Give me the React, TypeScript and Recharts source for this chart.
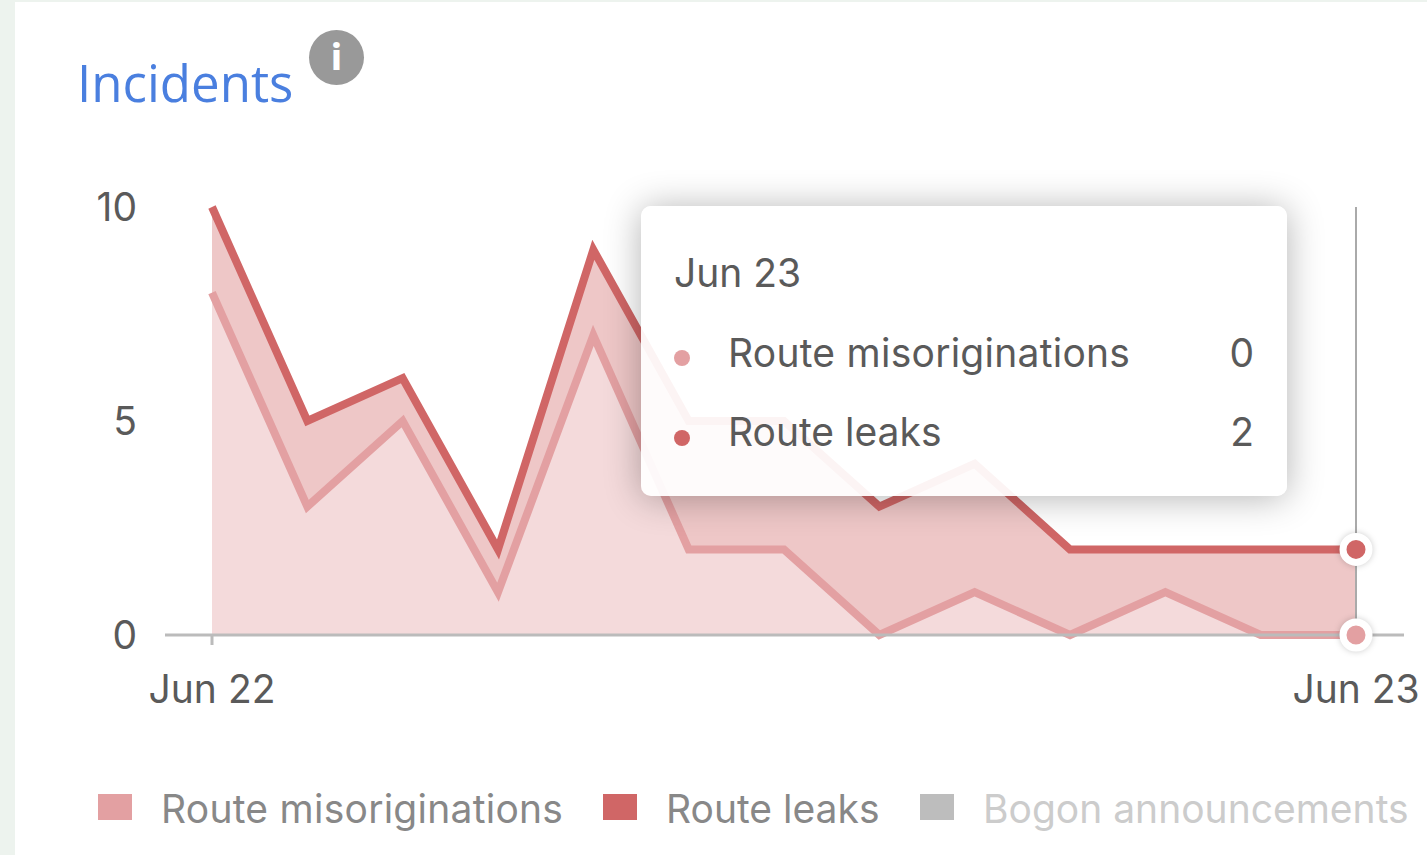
import React from "react";
import { AreaChart, Area, XAxis, YAxis, Tooltip, Legend } from "recharts";

const categories = [
  "Jun 22", "Jun 22 02:00", "Jun 22 04:00", "Jun 22 06:00", "Jun 22 08:00", "Jun 22 10:00", "Jun 22 12:00",
  "Jun 22 14:00", "Jun 22 16:00", "Jun 22 18:00", "Jun 22 20:00", "Jun 22 22:00", "Jun 23",
];
const misoriginations = [8, 3, 5, 1, 7, 2, 2, 0, 1, 0, 1, 0, 0];
const leaks = [2, 2, 1, 1, 2, 3, 3, 3, 3, 2, 1, 2, 2];
const xTicks = ["Jun 22", "Jun 23"];
const yTicks = [0, 5, 10];
const legendLabels = ["Route misoriginations", "Route leaks", "Bogon announcements"];

const MISO = "#e3a0a2";
const LEAK = "#d06666";
const MISO_FILL = "#f4dadb";
const LEAK_FILL = "#eec7c7";
const FONT = "Inter, sans-serif";
const SIZE = 39;
const TEXT = "#5a5a5a";

const data = categories.map((c, i) => ({
  date: c,
  miso: misoriginations[i],
  leak: leaks[i],
  total: misoriginations[i] + leaks[i],
}));

function TooltipBox({ active, payload, label }: any) {
  if (!active || !payload || !payload.length) return null;
  const d = payload[0].payload;
  const rows = [
    { name: legendLabels[0], value: d.miso, color: MISO },
    { name: legendLabels[1], value: d.leak, color: LEAK },
  ];
  return (
    <div style={{
      position: "relative", width: 646, height: 290, background: "rgba(255,255,255,0.93)", borderRadius: 10,
      boxShadow: "0 2px 36px rgba(0,0,0,0.3)", fontFamily: FONT, color: TEXT, fontSize: SIZE,
    }}>
      <div style={{ position: "absolute", left: 33, top: 45, lineHeight: "44px" }}>{label}</div>
      {rows.map((r: any, i: number) => (
        <React.Fragment key={r.name}>
          <div style={{ position: "absolute", left: 33, top: 144 + i * 80, width: 16, height: 16, borderRadius: 8, background: r.color }} />
          <div style={{ position: "absolute", left: 87, top: 125 + i * 79, lineHeight: "44px", letterSpacing: i === 0 ? 0.25 : 0 }}>{r.name}</div>
          <div style={{ position: "absolute", right: 33, top: 125 + i * 79, lineHeight: "44px" }}>{r.value}</div>
        </React.Fragment>
      ))}
    </div>
  );
}

const legendColors = [MISO, LEAK, "#bdbdbd"];
const legendTextColors = ["#888", "#888", "#ccc"];
const legendLefts = [98, 603, 920];

function LegendRow() {
  return (
    <div style={{ position: "relative", width: 1427, height: 60, fontFamily: FONT, fontSize: SIZE }}>
      {legendLabels.map((l, i) => (
        <React.Fragment key={l}>
          <div style={{ position: "absolute", left: legendLefts[i], top: 6, width: 34, height: 26, background: legendColors[i] }} />
          <div style={{ position: "absolute", left: legendLefts[i] + 63, top: -1, lineHeight: "44px", color: legendTextColors[i], whiteSpace: "nowrap", letterSpacing: i === 0 ? 0.25 : 0 }}>{l}</div>
        </React.Fragment>
      ))}
    </div>
  );
}

function ActiveDot({ cx, cy, color }: any) {
  return (
    <circle cx={cx} cy={cy} r={13} fill={color} stroke="#fff" strokeWidth={7}
      style={{ filter: "drop-shadow(0 0 3px rgba(0,0,0,0.2))" }} />
  );
}

export default function App() {
  return (
    <div style={{ position: "absolute", left: 0, top: 0, width: 1427, height: 855, background: "#edf3ee", overflow: "hidden" }}>
      <div style={{ position: "absolute", left: 15, top: 2, width: 1412, height: 853, background: "#fff" }} />
      <div style={{ position: "absolute", left: 77, top: 47, fontFamily: "'Open Sans', sans-serif", fontWeight: 500, fontSize: 51, lineHeight: "70px", color: "#4a7fdf" }}>Incidents</div>
      <div style={{
        position: "absolute", left: 309, top: 30, width: 55, height: 55, borderRadius: 28, background: "#999",
        color: "#fff", fontFamily: "Roboto, sans-serif", fontWeight: 900, fontSize: 36, lineHeight: "56px", textAlign: "center",
      }}>i</div>
      <div style={{ position: "absolute", left: 0, top: 0 }}>
        <AreaChart width={1427} height={855} data={data} margin={{ top: 207, right: 23, left: 105, bottom: 100 }}>
          <XAxis
            dataKey="date"
            ticks={xTicks}
            interval={0}
            padding={{ left: 47, right: 48 }}
            axisLine={{ stroke: "#bbb", strokeWidth: 3 }}
            tickLine={{ stroke: "#bbb", strokeWidth: 3 }}
            tickSize={10}
            tickMargin={30}
            height={60}
            tick={{ fill: TEXT, fontSize: SIZE, fontFamily: FONT }}
          />
          <YAxis
            width={60}
            domain={[0, 10]}
            ticks={yTicks}
            interval={0}
            axisLine={false}
            tickLine={false}
            tickMargin={22}
            tick={{ fill: TEXT, fontSize: SIZE, fontFamily: FONT }}
          />
          <Tooltip
            defaultIndex={12}
            isAnimationActive={false}
            position={{ x: 641, y: 206 }}
            allowEscapeViewBox={{ x: true, y: true }}
            cursor={{ stroke: "#aaa", strokeWidth: 2 }}
            content={<TooltipBox />}
          />
          <Legend verticalAlign="bottom" height={60} wrapperStyle={{ left: 0, bottom: 7, width: 1427, height: 60 }} content={<LegendRow />} />
          <Area
            type="linear" dataKey="total" name="Route leaks" stroke={LEAK} strokeWidth={8}
            fill={LEAK_FILL} fillOpacity={1} isAnimationActive={false}
            activeDot={<ActiveDot color={LEAK} />}
          />
          <Area
            type="linear" dataKey="miso" name="Route misoriginations" stroke={MISO} strokeWidth={8}
            fill={MISO_FILL} fillOpacity={1} isAnimationActive={false}
            activeDot={<ActiveDot color={MISO} />}
          />
        </AreaChart>
      </div>
    </div>
  );
}
